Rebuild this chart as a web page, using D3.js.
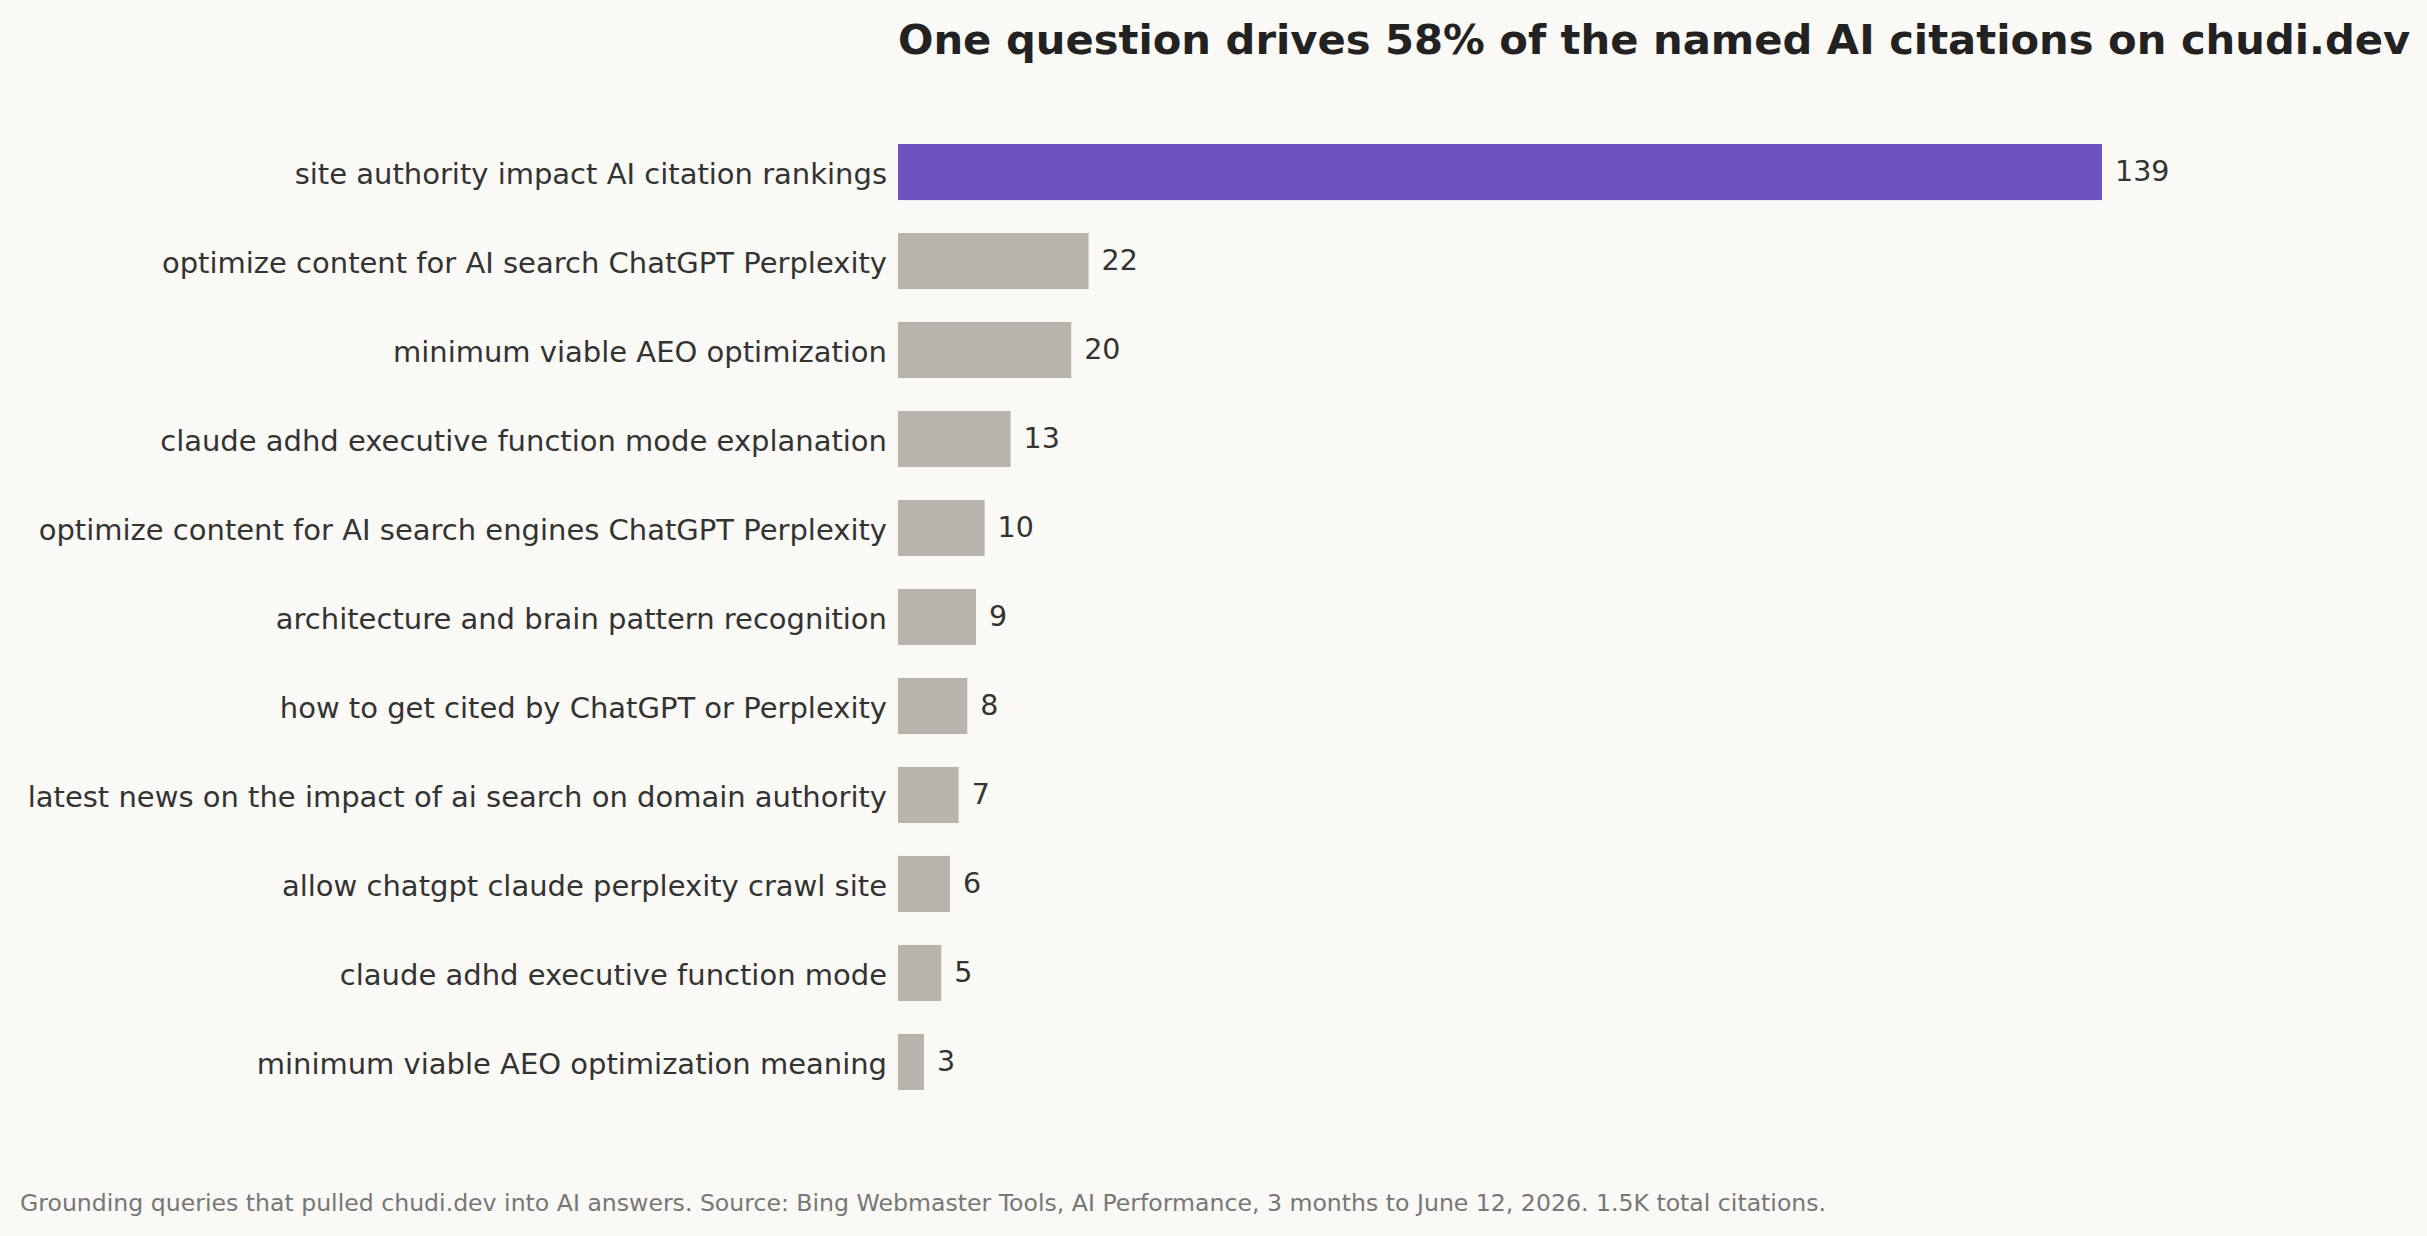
<!DOCTYPE html>
<html>
<head>
<meta charset="utf-8">
<script src="https://cdn.jsdelivr.net/npm/d3@7"></script>
<style>
  html, body { margin: 0; padding: 0; background: #FAF9F5; }
  svg { display: block; }
</style>
</head>
<body>
<svg id="chart" width="2427" height="1236"></svg>
<script>
const categories = [
  "site authority impact AI citation rankings",
  "optimize content for AI search ChatGPT Perplexity",
  "minimum viable AEO optimization",
  "claude adhd executive function mode explanation",
  "optimize content for AI search engines ChatGPT Perplexity",
  "architecture and brain pattern recognition",
  "how to get cited by ChatGPT or Perplexity",
  "latest news on the impact of ai search on domain authority",
  "allow chatgpt claude perplexity crawl site",
  "claude adhd executive function mode",
  "minimum viable AEO optimization meaning"
];
const values = [139, 22, 20, 13, 10, 9, 8, 7, 6, 5, 3];
const highlightIndex = 0;
const titleText = "One question drives 58% of the named AI citations on chudi.dev";
const footerText = "Grounding queries that pulled chudi.dev into AI answers. Source: Bing Webmaster Tools, AI Performance, 3 months to June 12, 2026. 1.5K total citations.";

const W = 2427, H = 1236;
const svg = d3.select("#chart");
svg.append("rect").attr("width", W).attr("height", H).attr("fill", "#FAF9F5");

const x = d3.scaleLinear().domain([0, 139]).range([898, 2102]);
const y = d3.scaleBand().domain(categories).range([144, 1090]).paddingInner(0.37).paddingOuter(0);

const font = "'DejaVu Sans', sans-serif";

svg.append("text")
  .attr("x", 898).attr("y", 54)
  .attr("font-family", font).attr("font-weight", "bold")
  .attr("font-size", 41.7).attr("fill", "#222222")
  .text(titleText);

const g = svg.append("g");
g.selectAll("rect.bar").data(values).join("rect")
  .attr("class", "bar")
  .attr("x", x(0))
  .attr("y", (d, i) => y(categories[i]))
  .attr("width", d => x(d) - x(0))
  .attr("height", y.bandwidth())
  .attr("fill", (d, i) => i === highlightIndex ? "#6E51C0" : "#B8B3AD");

g.selectAll("text.val").data(values).join("text")
  .attr("class", "val")
  .attr("x", d => x(d) + 13)
  .attr("y", (d, i) => y(categories[i]) + y.bandwidth() / 2)
  .attr("dy", "0.33em")
  .attr("font-family", font).attr("font-size", 28.5)
  .attr("fill", "#333333")
  .text(d => d);

const yAxis = d3.axisLeft(y).tickSize(0).tickPadding(11);
const ax = svg.append("g").attr("transform", `translate(${x(0)},0)`).call(yAxis);
ax.select(".domain").remove();
ax.selectAll("text")
  .attr("font-family", font).attr("font-size", 29)
  .attr("fill", "#333333")
  .attr("dy", "0.4em");

svg.append("text")
  .attr("x", 20).attr("y", 1211)
  .attr("font-family", font).attr("font-size", 23.6)
  .attr("fill", "#777777")
  .text(footerText);
</script>
</body>
</html>
